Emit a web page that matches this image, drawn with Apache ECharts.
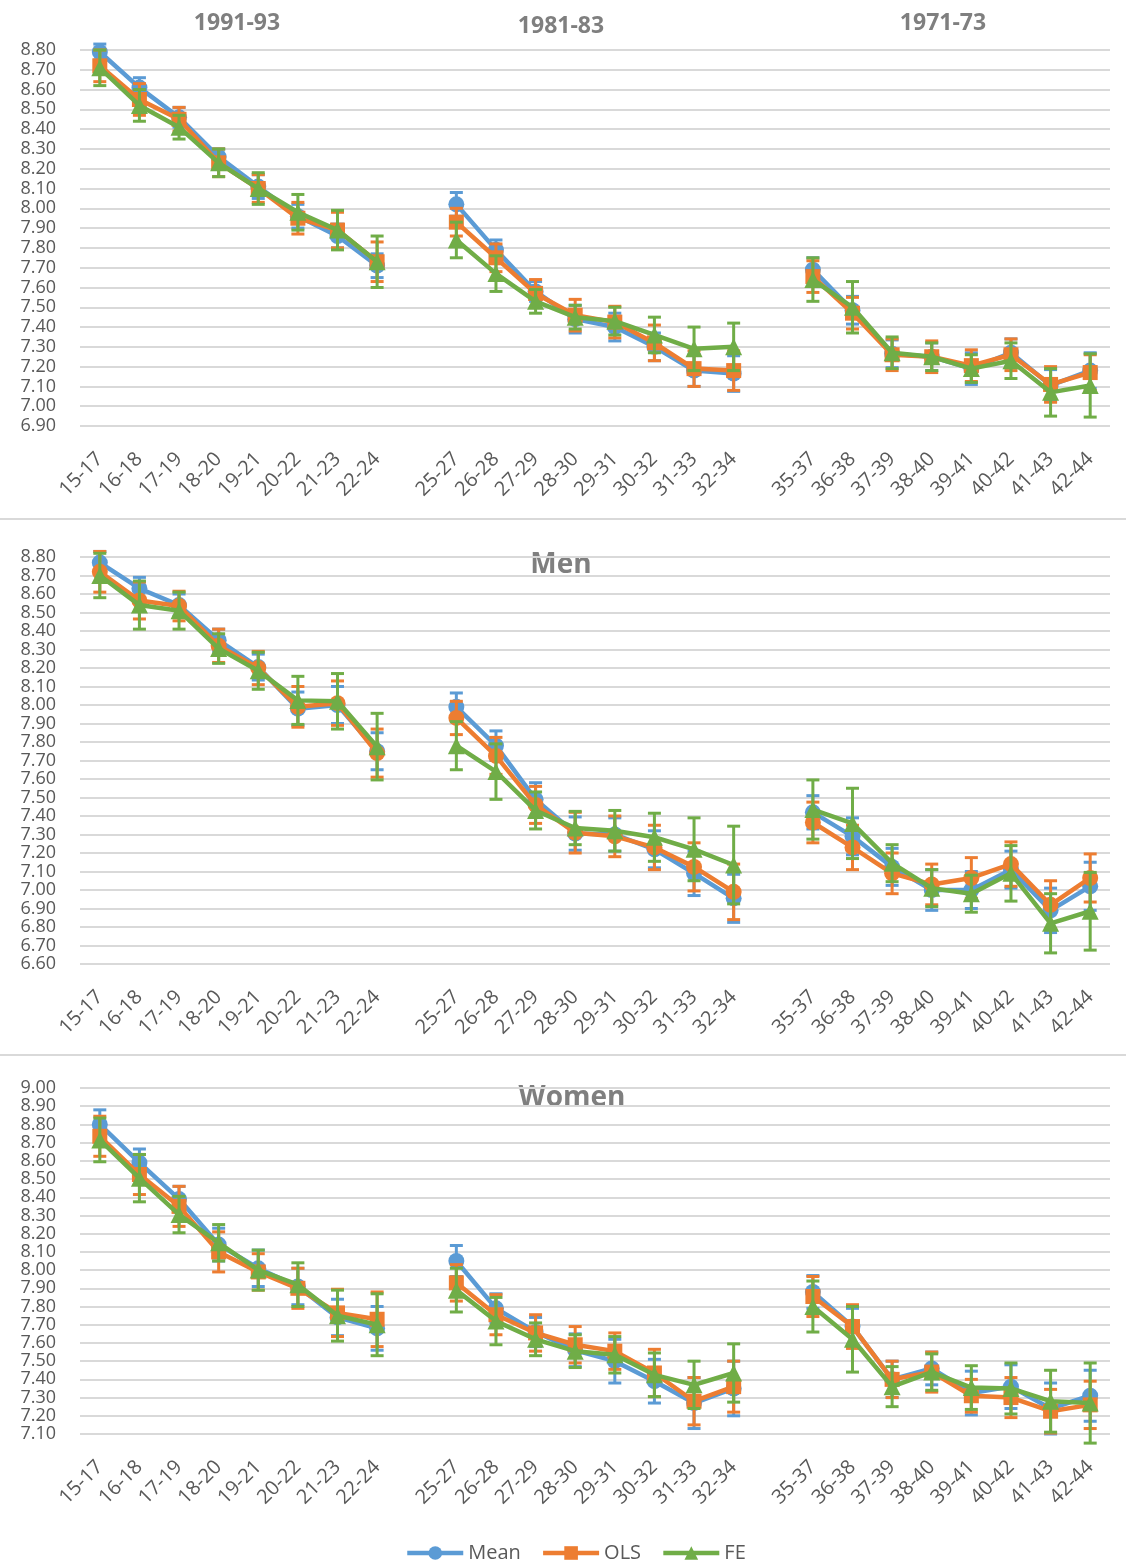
<!DOCTYPE html>
<html>
<head>
<meta charset="utf-8">
<script src="https://cdn.jsdelivr.net/npm/echarts@6/dist/echarts.min.js"></script>
<style>
html, body { margin: 0; padding: 0; background: #fff; }
#chart { width: 1126px; height: 1561px; }
</style>
</head>
<body>
<div id="chart"></div>
<script>
// age groups per cohort
var ages91 = ['15-17', '16-18', '17-19', '18-20', '19-21', '20-22', '21-23', '22-24'];
var ages81 = ['25-27', '26-28', '27-29', '28-30', '29-31', '30-32', '31-33', '32-34'];
var ages71 = ['35-37', '36-38', '37-39', '38-40', '39-41', '40-42', '41-43', '42-44'];

// panel 1 (all)
var mean1 = [8.79, 8.61, 8.46, 8.26, 8.11, 7.96, 7.86, 7.71, 8.02, 7.79, 7.58, 7.44, 7.40, 7.30, 7.18, 7.165, 7.69, 7.485, 7.265, 7.25, 7.19, 7.27, 7.105, 7.18];
var ols1 = [8.72, 8.55, 8.45, 8.23, 8.10, 7.95, 7.89, 7.73, 7.93, 7.75, 7.57, 7.46, 7.425, 7.32, 7.19, 7.18, 7.655, 7.47, 7.26, 7.25, 7.205, 7.26, 7.11, 7.17];
var fe1 = [8.71, 8.52, 8.41, 8.23, 8.10, 7.98, 7.89, 7.73, 7.84, 7.67, 7.53, 7.45, 7.43, 7.36, 7.29, 7.30, 7.64, 7.50, 7.27, 7.25, 7.19, 7.23, 7.07, 7.105];
var meanErr1 = [0.04, 0.05, 0.05, 0.04, 0.06, 0.06, 0.06, 0.06, 0.06, 0.05, 0.05, 0.07, 0.07, 0.07, 0.08, 0.09, 0.06, 0.07, 0.07, 0.07, 0.08, 0.07, 0.08, 0.09];
var olsErr1 = [0.08, 0.08, 0.06, 0.07, 0.07, 0.08, 0.09, 0.10, 0.07, 0.07, 0.07, 0.08, 0.08, 0.09, 0.09, 0.10, 0.08, 0.08, 0.08, 0.08, 0.08, 0.08, 0.09, 0.09];
var feErr1 = [0.09, 0.08, 0.06, 0.07, 0.08, 0.09, 0.10, 0.13, 0.09, 0.09, 0.06, 0.06, 0.07, 0.09, 0.11, 0.12, 0.11, 0.13, 0.08, 0.07, 0.07, 0.09, 0.12, 0.16];

// panel 2 (men)
var mean2 = [8.77, 8.63, 8.54, 8.35, 8.205, 7.98, 8.00, 7.75, 7.99, 7.78, 7.49, 7.305, 7.30, 7.22, 7.09, 6.955, 7.42, 7.29, 7.125, 7.00, 7.00, 7.11, 6.89, 7.02];
var ols2 = [8.72, 8.565, 8.535, 8.32, 8.20, 7.99, 8.01, 7.74, 7.93, 7.725, 7.46, 7.31, 7.29, 7.23, 7.125, 6.99, 7.365, 7.23, 7.09, 7.03, 7.065, 7.14, 6.92, 7.065];
var fe2 = [8.70, 8.54, 8.51, 8.305, 8.185, 8.025, 8.02, 7.775, 7.78, 7.64, 7.43, 7.335, 7.32, 7.285, 7.22, 7.135, 7.435, 7.36, 7.145, 7.01, 6.98, 7.09, 6.82, 6.885];
var meanErr2 = [0.06, 0.06, 0.06, 0.06, 0.07, 0.09, 0.10, 0.10, 0.075, 0.08, 0.09, 0.09, 0.09, 0.10, 0.12, 0.13, 0.09, 0.10, 0.10, 0.11, 0.10, 0.10, 0.12, 0.13];
var olsErr2 = [0.11, 0.10, 0.08, 0.09, 0.09, 0.11, 0.12, 0.13, 0.09, 0.10, 0.10, 0.11, 0.11, 0.12, 0.13, 0.15, 0.11, 0.12, 0.11, 0.11, 0.11, 0.12, 0.13, 0.13];
var feErr2 = [0.12, 0.13, 0.10, 0.08, 0.10, 0.13, 0.15, 0.18, 0.13, 0.15, 0.10, 0.09, 0.11, 0.13, 0.17, 0.21, 0.16, 0.19, 0.10, 0.10, 0.10, 0.15, 0.16, 0.21];

// panel 3 (women)
var mean3 = [8.80, 8.59, 8.39, 8.14, 8.01, 7.91, 7.74, 7.68, 8.05, 7.79, 7.66, 7.56, 7.50, 7.39, 7.27, 7.35, 7.88, 7.69, 7.40, 7.46, 7.325, 7.36, 7.24, 7.31];
var ols3 = [8.735, 8.525, 8.35, 8.10, 7.99, 7.90, 7.765, 7.73, 7.93, 7.755, 7.655, 7.59, 7.555, 7.435, 7.28, 7.36, 7.855, 7.69, 7.40, 7.44, 7.31, 7.30, 7.225, 7.26];
var fe3 = [8.715, 8.505, 8.305, 8.15, 8.00, 7.92, 7.75, 7.70, 7.89, 7.72, 7.62, 7.555, 7.535, 7.425, 7.37, 7.435, 7.80, 7.62, 7.36, 7.44, 7.355, 7.35, 7.28, 7.27];
var meanErr3 = [0.08, 0.075, 0.07, 0.09, 0.10, 0.10, 0.10, 0.12, 0.085, 0.08, 0.08, 0.09, 0.12, 0.12, 0.14, 0.15, 0.09, 0.10, 0.10, 0.09, 0.12, 0.12, 0.14, 0.14];
var olsErr3 = [0.11, 0.11, 0.11, 0.11, 0.10, 0.11, 0.13, 0.15, 0.10, 0.11, 0.10, 0.10, 0.10, 0.13, 0.13, 0.14, 0.11, 0.12, 0.10, 0.11, 0.09, 0.11, 0.12, 0.13];
var feErr3 = [0.12, 0.13, 0.10, 0.10, 0.11, 0.12, 0.14, 0.17, 0.12, 0.13, 0.09, 0.09, 0.10, 0.12, 0.13, 0.16, 0.14, 0.18, 0.11, 0.10, 0.12, 0.14, 0.17, 0.22];

var yMin = [6.9, 6.6, 7.1];
var yMax = [8.8, 8.8, 9.0];

var colors = { Mean : '#5b9bd5', OLS : '#ed7d31', FE : '#70ad47' };
var textColor = '#595959';
var fontFamily = '"Open Sans", sans-serif';

// one empty category between the cohorts
var categories = ages91.concat([''], ages81, [''], ages71);
function withGaps(arr) {
	return arr.slice(0, 8).concat([null], arr.slice(8, 16), [null], arr.slice(16));
}
function errData(vals, errs) {
	var v = withGaps(vals), e = withGaps(errs), out = [];
	for (var i = 0; i < v.length; i++) {
		if (v[i] === null) continue;
		out.push([i, v[i] - e[i], v[i] + e[i]]);
	}
	return out;
}
function renderErrorBar(params, api) {
	var x = api.value(0);
	var lo = api.coord([x, api.value(1)]);
	var hi = api.coord([x, api.value(2)]);
	var half = 6.5;
	var style = { stroke : api.visual('color'), lineWidth : 3 };
	return {
		type : 'group',
		children : [
			{ type : 'line', shape : { x1 : hi[0], y1 : hi[1], x2 : lo[0], y2 : lo[1] }, style : style },
			{ type : 'line', shape : { x1 : hi[0] - half, y1 : hi[1], x2 : hi[0] + half, y2 : hi[1] }, style : style },
			{ type : 'line', shape : { x1 : lo[0] - half, y1 : lo[1], x2 : lo[0] + half, y2 : lo[1] }, style : style }
		]
	};
}

var panels = [
	{ top : 50, height : 376, mean : mean1, ols : ols1, fe : fe1, meanErr : meanErr1, olsErr : olsErr1, feErr : feErr1, olsSymbol : 'rect' },
	{ top : 557, height : 407, mean : mean2, ols : ols2, fe : fe2, meanErr : meanErr2, olsErr : olsErr2, feErr : feErr2, olsSymbol : 'circle' },
	{ top : 1088, height : 346, mean : mean3, ols : ols3, fe : fe3, meanErr : meanErr3, olsErr : olsErr3, feErr : feErr3, olsSymbol : 'rect' }
];

var grids = [], xAxes = [], yAxes = [], series = [];
panels.forEach(function (p, k) {
	grids.push({ left : 80, top : p.top, width : 1030, height : p.height });
	xAxes.push({
		type : 'category',
		gridIndex : k,
		data : categories,
		axisLine : { show : false },
		axisTick : { show : false },
		axisLabel : {
			interval : 0,
			rotate : 45,
			margin : 30,
			color : textColor,
			fontSize : 20,
			fontFamily : fontFamily
		},
		splitLine : { show : false }
	});
	yAxes.push({
		type : 'value',
		gridIndex : k,
		min : yMin[k],
		max : yMax[k],
		interval : 0.1,
		axisLine : { show : false },
		axisTick : { show : false },
		axisLabel : {
			margin : 24,
			color : textColor,
			fontSize : 18,
			fontFamily : fontFamily,
			formatter : function (v) { return v.toFixed(2); }
		},
		splitLine : { show : true, lineStyle : { color : '#d9d9d9', width : 2 } }
	});
	var defs = [
		{ name : 'Mean', vals : p.mean, errs : p.meanErr, symbol : 'circle', size : 16 },
		{ name : 'OLS', vals : p.ols, errs : p.olsErr, symbol : p.olsSymbol, size : p.olsSymbol === 'rect' ? 15 : 16 },
		{ name : 'FE', vals : p.fe, errs : p.feErr, symbol : 'triangle', size : 17 }
	];
	defs.forEach(function (d, j) {
		series.push({
			name : d.name,
			type : 'line',
			xAxisIndex : k,
			yAxisIndex : k,
			data : withGaps(d.vals),
			symbol : d.symbol,
			symbolSize : d.size,
			z : 2 + j,
			itemStyle : { color : colors[d.name] },
			lineStyle : { color : colors[d.name], width : 4.5 },
			emphasis : { disabled : true }
		});
		series.push({
			name : d.name + ' err',
			type : 'custom',
			xAxisIndex : k,
			yAxisIndex : k,
			renderItem : renderErrorBar,
			encode : { x : 0, y : [1, 2] },
			data : errData(d.vals, d.errs),
			clip : false,
			z : 2 + j,
			itemStyle : { color : colors[d.name] }
		});
	});
});

function titleText(text, x, y, size) {
	return {
		type : 'text',
		x : x,
		y : y,
		style : {
			text : text,
			fill : '#7f7f7f',
			font : 'bold ' + size + 'px ' + fontFamily,
			align : 'center',
			verticalAlign : 'middle'
		}
	};
}
function sepLine(y) {
	return {
		type : 'line',
		shape : { x1 : 0, y1 : y, x2 : 1126, y2 : y },
		style : { stroke : '#d9d9d9', lineWidth : 2 }
	};
}

var chart = echarts.init(document.getElementById('chart'));
chart.setOption({
	animation : false,
	color : [colors.Mean, colors.OLS, colors.FE],
	legend : {
		data : ['Mean', 'OLS', 'FE'],
		left : 400,
		top : 1538,
		itemWidth : 56,
		itemHeight : 17,
		itemGap : 20,
		lineStyle : { width : 4.5 },
		textStyle : { color : textColor, fontSize : 20, fontFamily : fontFamily }
	},
	graphic : {
		elements : [
			titleText('1991-93', 237, 23, 23),
			titleText('1981-83', 561, 26, 23),
			titleText('1971-73', 943, 23, 23),
			titleText('Men', 561, 565, 28),
			titleText('Women', 572, 1098, 28),
			sepLine(519),
			sepLine(1055)
		]
	},
	grid : grids,
	xAxis : xAxes,
	yAxis : yAxes,
	series : series
});
</script>
</body>
</html>
